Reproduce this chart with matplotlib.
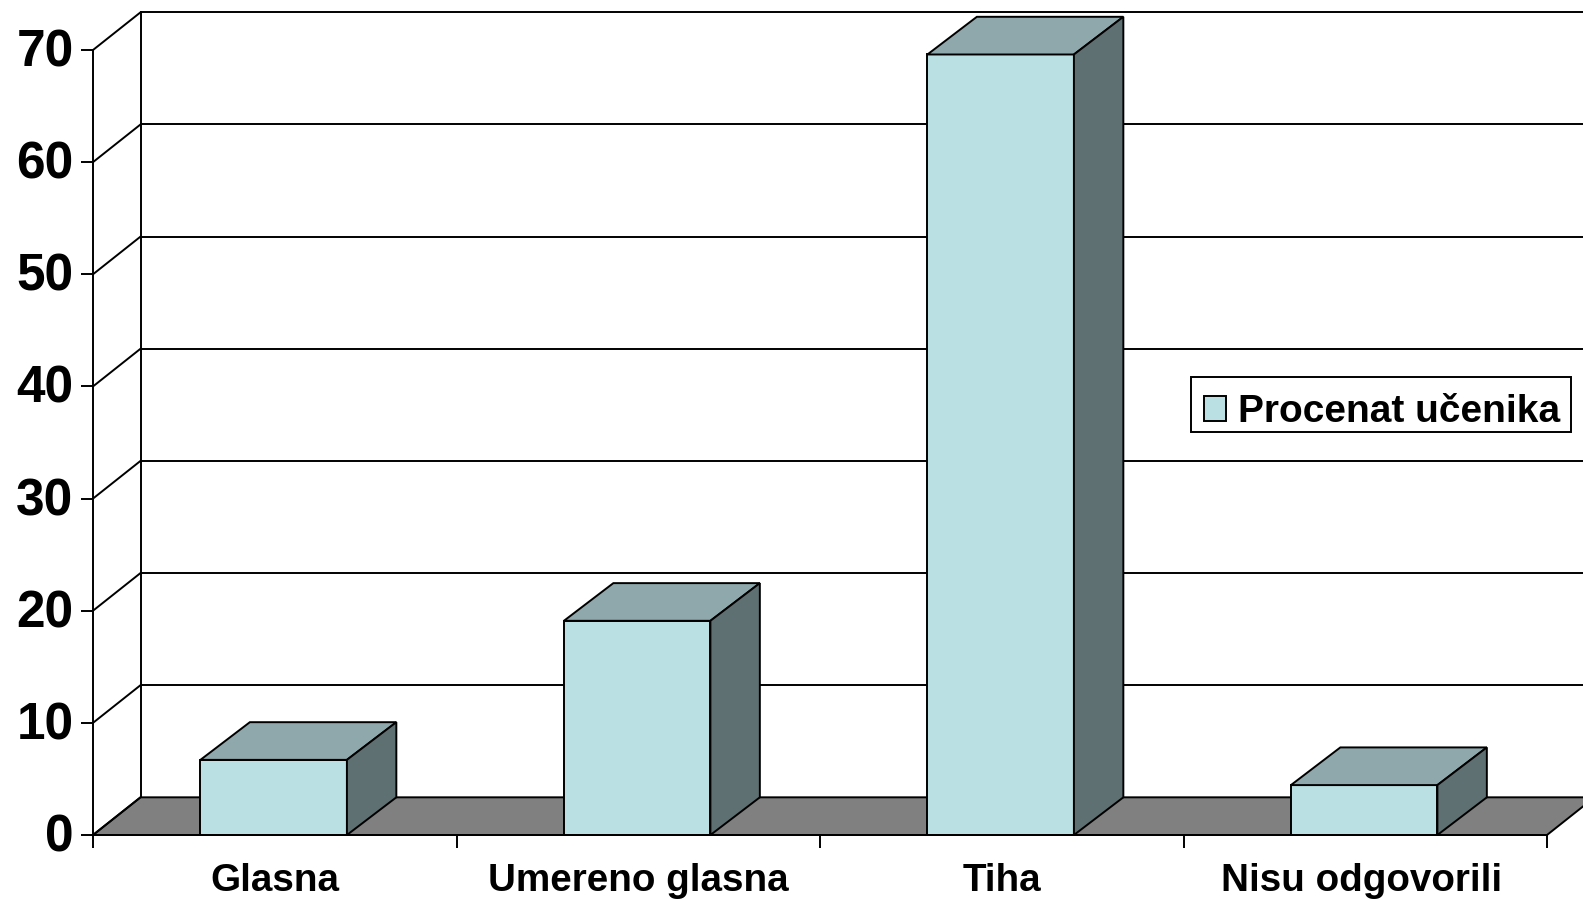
import matplotlib
matplotlib.use('Agg')
import matplotlib.pyplot as plt
from matplotlib.patches import Patch, Polygon, Rectangle
from matplotlib.transforms import ScaledTranslation

plt.rcParams['font.family'] = ['Liberation Sans', 'DejaVu Sans']
plt.rcParams['font.weight'] = 'bold'

categories = ['Glasna', 'Umereno glasna', 'Tiha', 'Nisu odgovorili']
values = [6.7, 19.1, 69.6, 4.45]
y_ticks = [0, 10, 20, 30, 40, 50, 60, 70]
series_name = 'Procenat učenika'

FRONT = '#BBE0E3'
TOP = '#8FA8AB'
SIDE = '#5F7073'
FLOOR = '#808080'
LW = 1.4

# fake 3d depth, in data units
DEPTH_X = 0.1307
DEPTH_Y = 3.36
BAR_DX = 0.136
BAR_W = 0.403

W, H = 1583, 900
fig = plt.figure(figsize=(W / 100, H / 100), dpi=100, facecolor='white')
# axes rectangle is the front plane of the chart
ax = fig.add_axes([93 / W, 1 - 835 / H, (1547 - 93) / W, (835 - 50) / H])
ax.set_xlim(0, len(categories))
ax.set_ylim(0, 70)
ax.patch.set_visible(False)

n = len(categories)

# floor
ax.add_patch(Polygon([(0, 0), (n, 0), (n + DEPTH_X, DEPTH_Y), (DEPTH_X, DEPTH_Y)],
                     closed=True, facecolor=FLOOR, edgecolor='black', lw=LW,
                     zorder=1, clip_on=False))

# back wall grid and the diagonals to the side wall
for t in y_ticks:
    ax.plot([0, DEPTH_X], [t, t + DEPTH_Y], color='black', lw=LW, zorder=1, clip_on=False)
    if t > 0:
        ax.plot([DEPTH_X, n + DEPTH_X], [t + DEPTH_Y, t + DEPTH_Y], color='black',
                lw=LW, zorder=1, clip_on=False)
ax.plot([DEPTH_X, DEPTH_X], [0 + DEPTH_Y, 70 + DEPTH_Y], color='black', lw=LW, zorder=1, clip_on=False)

# bars
for i, v in enumerate(values):
    left = i + 0.5 - 0.003 - BAR_W / 2
    right = left + BAR_W
    ax.bar(left, v, width=BAR_W, align='edge', facecolor=FRONT, edgecolor='black',
           lw=LW, zorder=3, clip_on=False)
    ax.add_patch(Polygon([(left, v), (right, v), (right + BAR_DX, v + DEPTH_Y), (left + BAR_DX, v + DEPTH_Y)],
                         closed=True, facecolor=TOP, edgecolor='black', lw=LW,
                         zorder=3, clip_on=False))
    ax.add_patch(Polygon([(right, 0), (right + BAR_DX, DEPTH_Y), (right + BAR_DX, v + DEPTH_Y), (right, v)],
                         closed=True, facecolor=SIDE, edgecolor='black', lw=LW,
                         zorder=3, clip_on=False))

for side in ['top', 'right']:
    ax.spines[side].set_visible(False)
for side in ['left', 'bottom']:
    ax.spines[side].set_linewidth(LW)
    ax.spines[side].set_zorder(4)

ax.set_yticks(y_ticks)
ax.set_yticklabels([str(t) for t in y_ticks], fontsize=37, fontweight='bold')
ax.tick_params(axis='y', length=9, width=LW, pad=5)
# digits sit a little above the tick in the original
up = ScaledTranslation(0, 2.5 / 100, fig.dpi_scale_trans)
for lbl in ax.get_yticklabels():
    lbl.set_transform(lbl.get_transform() + up)

ax.set_xticks(range(n + 1))
ax.set_xticklabels([])
ax.tick_params(axis='x', which='major', length=9, width=LW)
ax.set_xticks([i + 0.5 for i in range(n)], minor=True)
ax.set_xticklabels(categories, minor=True, fontsize=27.8, fontweight='bold')
ax.tick_params(axis='x', which='minor', length=0, pad=20)
# last label is a bit left of centre
last = ax.get_xticklabels(minor=True)[-1]
last.set_transform(last.get_transform() + ScaledTranslation(-4 / 100, 0, fig.dpi_scale_trans))

# legend box drawn apart so its height can be tighter than the legend padding
fig.add_artist(Rectangle((1190.7 / W, 1 - 431.7 / H), 380 / W, 54.7 / H,
                         transform=fig.transFigure, facecolor='white', edgecolor='black',
                         lw=LW, zorder=5))
handle = Patch(facecolor=FRONT, edgecolor='black', lw=LW)
leg = fig.legend([handle], [series_name], loc='center',
                 bbox_to_anchor=(1382 / W, 1 - 412 / H), bbox_transform=fig.transFigure,
                 fontsize=28, frameon=False,
                 handlelength=0.57, handleheight=0.6, handletextpad=0.3,
                 borderpad=0, borderaxespad=0)
leg.set_zorder(6)

fig.savefig('out.png', dpi=100)
